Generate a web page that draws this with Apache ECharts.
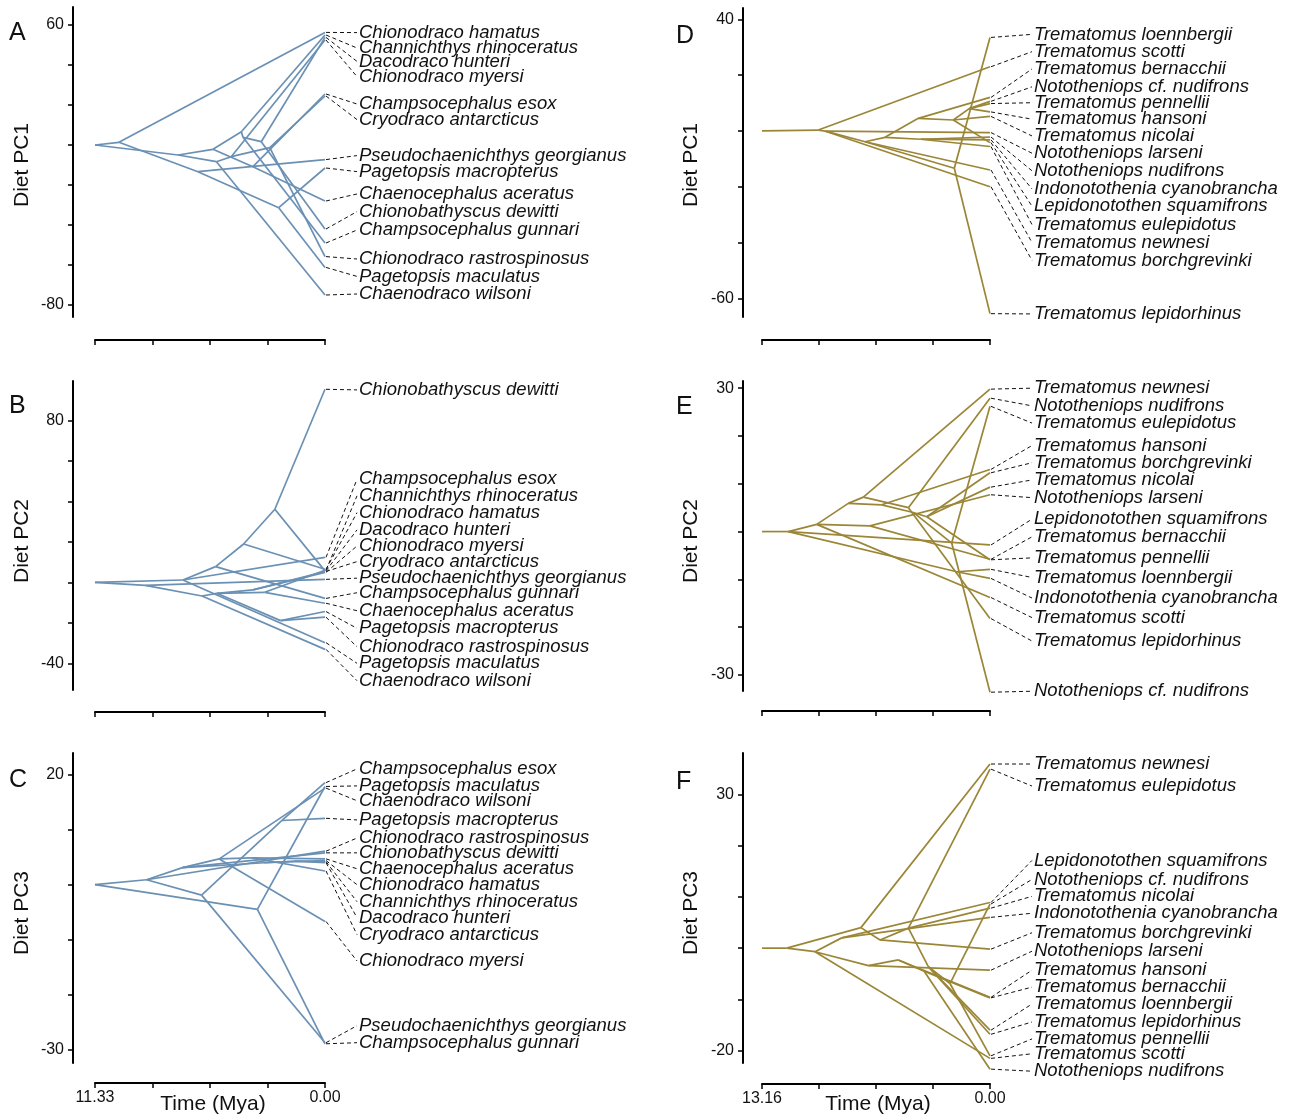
<!DOCTYPE html>
<html><head><meta charset="utf-8">
<script src="https://cdn.jsdelivr.net/npm/echarts@6/dist/echarts.min.js"></script>
<style>html,body{margin:0;padding:0;background:#fff}#chart{width:1302px;height:1116px}</style>
</head><body><div id="chart"></div>
<script>
// ---------- Panel A : Channichthyidae, Diet PC1 ----------
const A_tipNames = ["Chionodraco hamatus","Channichthys rhinoceratus","Dacodraco hunteri","Chionodraco myersi","Champsocephalus esox","Cryodraco antarcticus","Pseudochaenichthys georgianus","Pagetopsis macropterus","Chaenocephalus aceratus","Chionobathyscus dewitti","Champsocephalus gunnari","Chionodraco rastrospinosus","Pagetopsis maculatus","Chaenodraco wilsoni"];
const A_tipValues = [56.3, 55.0, 53.8, 52.5, 25.5, 24.5, -7.3, -11.5, -28.0, -42.0, -49.0, -55.8, -61.2, -75.0];
const A_tipParents = [1, 6, 9, 11, 8, 10, 3, 12, 8, 9, 7, 10, 12, 5];
const A_labelValues = [56.2, 48.5, 41.8, 34.2, 20.5, 12.7, -5.3, -13.3, -24.5, -33.3, -42.5, -57.0, -65.7, -74.5];
const A_nodeTimes = [11.33, 10.15, 7.24, 6.26, 5.52, 5.35, 4.12, 4.04, 3.55, 3.14, 2.72, 4.62, 2.28];
const A_nodeValues = [0, 1.35, -5.0, -13.35, -2.15, -8.35, 6.65, 3.85, -10.85, 1.65, -1.35, -5.85, -31.35];
const A_nodeParents = [-1, 0, 0, 1, 2, 2, 4, 6, 4, 7, 11, 5, 3];

// ---------- Panel B : Channichthyidae, Diet PC2 ----------
const B_tipNames = ["Chionobathyscus dewitti","Champsocephalus esox","Channichthys rhinoceratus","Chionodraco hamatus","Dacodraco hunteri","Chionodraco myersi","Cryodraco antarcticus","Pseudochaenichthys georgianus","Champsocephalus gunnari","Chaenocephalus aceratus","Pagetopsis macropterus","Chionodraco rastrospinosus","Pagetopsis maculatus","Chaenodraco wilsoni"];
const B_tipValues = [95.5, 12.4, 6.0, 6.5, 5.7, 5.0, 5.4, 1.5, -7.9, -10.3, -14.4, -17.2, -29.8, -33.1];
const B_tipParents = [5, 2, 8, 4, 5, 10, 10, 1, 3, 8, 9, 9, 2, 6];
const B_labelValues = [95.2, 51.0, 42.8, 34.5, 26.0, 18.0, 10.3, 2.1, -5.1, -14.0, -22.7, -31.8, -40.0, -48.6];
const B_nodeTimes = [11.33, 8.85, 7.0, 5.39, 4.01, 2.47, 6.06, 5.33, 2.97, 2.19, 3.55];
const B_nodeValues = [0, -1.5, 1.2, 7.8, 19.0, 36.2, -6.7, -5.4, -4.9, -18.9, -3.7];
const B_nodeParents = [-1, 0, 0, 2, 3, 4, 1, 6, 7, 7, 7];

// ---------- Panel C : Channichthyidae, Diet PC3 ----------
const C_tipNames = ["Champsocephalus esox","Pagetopsis maculatus","Chaenodraco wilsoni","Pagetopsis macropterus","Chionodraco rastrospinosus","Chionobathyscus dewitti","Chaenocephalus aceratus","Chionodraco hamatus","Channichthys rhinoceratus","Dacodraco hunteri","Cryodraco antarcticus","Chionodraco myersi","Pseudochaenichthys georgianus","Champsocephalus gunnari"];
const C_tipValues = [18.6, 17.9, 17.6, 12.1, 6.1, 5.8, 4.7, 4.4, 4.2, 4.0, 2.5, -6.7, -28.8, -29.0];
const C_tipParents = [5, 2, 6, 5, 1, 3, 9, 7, 8, 8, 9, 6, 4, 2];
const C_labelValues = [21.1, 18.0, 15.3, 11.8, 8.5, 5.8, 2.9, 0.0, -3.1, -6.0, -9.1, -13.9, -25.7, -28.8];
const C_nodeTimes = [11.33, 8.79, 3.33, 7.02, 6.08, 2.12, 5.21, 3.0, 1.5, 3.6];
const C_nodeValues = [0, 0.9, -4.5, 3.1, -1.9, 11.7, 4.7, 4.0, 4.3, 4.9];
const C_nodeParents = [-1, 0, 0, 1, 1, 4, 3, 3, 7, 6];

// ---------- Panel D : Trematomus group, Diet PC1 ----------
const D_tipNames = ["Trematomus loennbergii","Trematomus scotti","Trematomus bernacchii","Nototheniops cf. nudifrons","Trematomus pennellii","Trematomus hansoni","Trematomus nicolai","Nototheniops larseni","Nototheniops nudifrons","Indonotothenia cyanobrancha","Lepidonotothen squamifrons","Trematomus eulepidotus","Trematomus newnesi","Trematomus borchgrevinki","Trematomus lepidorhinus"];
const D_tipValues = [33.5, 23.0, 12.0, 10.6, 9.8, 6.8, 5.2, -0.6, -2.2, -3.2, -4.2, -5.6, -14.0, -20.0, -65.5];
const D_tipParents = [5, 1, 7, 9, 9, 9, 8, 2, 6, 6, 8, 6, 3, 2, 5];
const D_labelValues = [34.6, 28.4, 22.2, 15.8, 10.1, 4.2, -1.8, -8.0, -14.3, -20.8, -27.0, -33.6, -40.0, -46.4, -65.6];
const D_nodeTimes = [13.16, 9.91, 9.5, 7.21, 6.06, 2.06, 4.0, 4.14, 2.12, 1.2];
const D_nodeValues = [0, 0.3, -0.1, -3.9, -2.3, -13.4, -3.0, 4.5, 3.9, 8.0];
const D_nodeParents = [-1, 0, 1, 2, 3, 3, 4, 4, 7, 8];

// ---------- Panel E : Trematomus group, Diet PC2 ----------
const E_tipNames = ["Trematomus newnesi","Nototheniops nudifrons","Trematomus eulepidotus","Trematomus hansoni","Trematomus borchgrevinki","Trematomus nicolai","Nototheniops larseni","Lepidonotothen squamifrons","Trematomus bernacchii","Trematomus pennellii","Trematomus loennbergii","Indonotothenia cyanobrancha","Trematomus scotti","Trematomus lepidorhinus","Nototheniops cf. nudifrons"];
const E_tipValues = [29.8, 27.9, 26.2, 13.0, 12.3, 9.3, 7.7, -2.8, -5.8, -5.9, -7.9, -9.8, -13.8, -18.2, -33.6];
const E_tipParents = [6, 8, 10, 7, 11, 11, 5, 1, 5, 11, 3, 3, 2, 8, 10];
const E_labelValues = [30.0, 26.3, 22.7, 18.0, 14.4, 10.8, 7.1, 2.6, -1.1, -5.5, -9.6, -13.9, -18.0, -22.9, -33.4];
const E_nodeTimes = [13.16, 11.64, 10.0, 1.92, 8.18, 6.93, 7.31, 6.25, 4.71, 4.43, 2.21, 3.65];
const E_nodeValues = [0, 0, 1.5, -8.4, 5.9, 1.2, 7.2, 5.6, 5.0, 4.0, -2.4, 3.1];
const E_nodeParents = [-1, 0, 1, 1, 2, 2, 4, 4, 6, 7, 9, 9];

// ---------- Panel F : Trematomus group, Diet PC3 ----------
const F_tipNames = ["Trematomus newnesi","Trematomus eulepidotus","Lepidonotothen squamifrons","Nototheniops cf. nudifrons","Trematomus nicolai","Indonotothenia cyanobrancha","Trematomus borchgrevinki","Nototheniops larseni","Trematomus hansoni","Trematomus bernacchii","Trematomus loennbergii","Trematomus lepidorhinus","Trematomus pennellii","Trematomus scotti","Nototheniops nudifrons"];
const F_tipValues = [35.9, 34.9, 8.9, 8.6, 7.8, 6.0, -0.2, -4.3, -9.6, -9.7, -16.0, -16.8, -21.0, -21.5, -23.6];
const F_tipParents = [3, 9, 4, 11, 9, 4, 8, 5, 6, 7, 10, 10, 11, 2, 7];
const F_labelValues = [35.9, 31.6, 17.1, 13.4, 10.1, 6.8, 3.0, -0.6, -4.3, -7.6, -10.9, -14.4, -17.7, -20.6, -24.0];
const F_nodeTimes = [13.16, 11.73, 10.1, 7.45, 8.56, 7.02, 5.29, 3.8, 6.35, 4.71, 3.56, 2.31];
const F_nodeValues = [0, 0, -0.7, 4.0, 2.0, -3.4, -2.3, -4.5, 1.6, 3.9, -3.6, -6.9];
const F_nodeParents = [-1, 0, 1, 1, 2, 2, 5, 6, 3, 8, 9, 10];

// Axis ticks
const leftAge = 11.33, rightAge = 13.16;
const A_yTicks = [-80,-60,-40,-20,0,20,40,60], A_yLabels = [-80,60];
const B_yTicks = [-40,-20,0,20,40,60,80], B_yLabels = [-40,80];
const C_yTicks = [-30,-20,-10,0,10,20], C_yLabels = [-30,20];
const D_yTicks = [-60,-40,-20,0,20,40], D_yLabels = [-60,40];
const E_yTicks = [-30,-20,-10,0,10,20,30], E_yLabels = [-30,30];
const F_yTicks = [-20,-10,0,10,20,30], F_yLabels = [-20,30];

const BLUE = '#6a90b4', GOLD = '#9a8636';
const FONT = "'Liberation Sans', Arial, sans-serif";

const panels = [
  {letter:'A', title:'Diet PC1', names:A_tipNames, tips:A_tipValues, tipPar:A_tipParents, lab:A_labelValues, nt:A_nodeTimes, nv:A_nodeValues, np:A_nodeParents, ticks:A_yTicks, ylabs:A_yLabels, age:leftAge,
   left:95, top:7, width:230, height:310, yMin:-86, yMax:69, xAxisY:340, yAxisX:73, color:BLUE, showX:false, gap:32, letterX:18, letterY:34, titleX:22, titleY:165},
  {letter:'B', title:'Diet PC2', names:B_tipNames, tips:B_tipValues, tipPar:B_tipParents, lab:B_labelValues, nt:B_nodeTimes, nv:B_nodeValues, np:B_nodeParents, ticks:B_yTicks, ylabs:B_yLabels, age:leftAge,
   left:95, top:381, width:230, height:309, yMin:-53.2, yMax:99.6, xAxisY:712, yAxisX:73, color:BLUE, showX:false, gap:32, letterX:18, letterY:407, titleX:22, titleY:541},
  {letter:'C', title:'Diet PC3', names:C_tipNames, tips:C_tipValues, tipPar:C_tipParents, lab:C_labelValues, nt:C_nodeTimes, nv:C_nodeValues, np:C_nodeParents, ticks:C_yTicks, ylabs:C_yLabels, age:leftAge,
   left:95, top:753, width:230, height:310, yMin:-32.5, yMax:24.0, xAxisY:1083, yAxisX:73, color:BLUE, showX:true, gap:32, letterX:18, letterY:781, titleX:22, titleY:913, timeX:213},
  {letter:'D', title:'Diet PC1', names:D_tipNames, tips:D_tipValues, tipPar:D_tipParents, lab:D_labelValues, nt:D_nodeTimes, nv:D_nodeValues, np:D_nodeParents, ticks:D_yTicks, ylabs:D_yLabels, age:rightAge,
   left:762, top:8, width:228, height:309, yMin:-66.7, yMax:44.05, xAxisY:340, yAxisX:743, color:GOLD, showX:false, gap:42, letterX:685, letterY:37, titleX:691, titleY:165},
  {letter:'E', title:'Diet PC2', names:E_tipNames, tips:E_tipValues, tipPar:E_tipParents, lab:E_labelValues, nt:E_nodeTimes, nv:E_nodeValues, np:E_nodeParents, ticks:E_yTicks, ylabs:E_yLabels, age:rightAge,
   left:762, top:381, width:228, height:310, yMin:-33.35, yMax:31.5, xAxisY:711, yAxisX:743, color:GOLD, showX:false, gap:42, letterX:685, letterY:408, titleX:691, titleY:541},
  {letter:'F', title:'Diet PC3', names:F_tipNames, tips:F_tipValues, tipPar:F_tipParents, lab:F_labelValues, nt:F_nodeTimes, nv:F_nodeValues, np:F_nodeParents, ticks:F_yTicks, ylabs:F_yLabels, age:rightAge,
   left:762, top:753, width:228, height:310, yMin:-22.4, yMax:38.05, xAxisY:1084, yAxisX:743, color:GOLD, showX:true, gap:42, letterX:685, letterY:783, titleX:691, titleY:913, timeX:878}
];

function buildEdges(p){
  const e = [];
  p.np.forEach((par, i) => { if (par >= 0) e.push([p.nt[par], p.nv[par], p.nt[i], p.nv[i]]); });
  p.tipPar.forEach((par, i) => { e.push([p.nt[par], p.nv[par], 0, p.tips[i]]); });
  return e;
}

const grid = [], xAxis = [], yAxis = [], series = [], graphic = [];
panels.forEach((p, i) => {
  grid.push({left:p.left, top:p.top, width:p.width, height:p.height, containLabel:false, outerBoundsMode:'none'});
  const age = p.age;
  xAxis.push({
    gridIndex:i, type:'value', min:0, max:age, inverse:true, position:'bottom',
    offset: p.xAxisY - (p.top + p.height),
    axisLine:{show:true, onZero:false, lineStyle:{color:'#000', width:2}},
    axisTick:{show:true, length:5, customValues:[0, age/4, age/2, 3*age/4, age], lineStyle:{color:'#000', width:1.5}},
    axisLabel:{show:p.showX, customValues:[0, age], formatter:v => Number(v).toFixed(2), fontSize:16, color:'#111', margin:7, fontFamily:FONT},
    splitLine:{show:false}
  });
  yAxis.push({
    gridIndex:i, type:'value', min:p.yMin, max:p.yMax, position:'left',
    offset: p.left - p.yAxisX,
    axisLine:{show:true, onZero:false, lineStyle:{color:'#000', width:2}},
    axisTick:{show:true, length:5, customValues:p.ticks, lineStyle:{color:'#000', width:1.5}},
    axisLabel:{show:true, customValues:p.ylabs, fontSize:16, color:'#111', margin:9, fontFamily:FONT},
    splitLine:{show:false}
  });
  const color = p.color;
  series.push({
    type:'custom', xAxisIndex:i, yAxisIndex:i, clip:false, silent:true, animation:false,
    encode:{x:[0,2], y:[1,3]},
    data: buildEdges(p),
    renderItem:(params, api) => {
      const a = api.coord([api.value(0), api.value(1)]);
      const b = api.coord([api.value(2), api.value(3)]);
      return {type:'line', shape:{x1:a[0], y1:a[1], x2:b[0], y2:b[1]},
              style:{stroke:color, lineWidth:1.7, fill:null}};
    }
  });
  const names = p.names, gap = p.gap;
  series.push({
    type:'custom', xAxisIndex:i, yAxisIndex:i, clip:false, silent:true, animation:false,
    encode:{x:0, y:[1,2]},
    data: p.tips.map((v, j) => [0, v, p.lab[j]]),
    renderItem:(params, api) => {
      const t = api.coord([0, api.value(1)]);
      const l = api.coord([0, api.value(2)]);
      const ex = t[0] + gap;
      return {type:'group', children:[
        {type:'line', shape:{x1:t[0]+1, y1:t[1], x2:ex, y2:l[1]},
         style:{stroke:'#111', lineWidth:1, lineDash:[4,3], fill:null}},
        {type:'text', x:ex + 2, y:l[1],
         style:{text:names[params.dataIndex], fontSize:18.5, fontStyle:'italic', fontFamily:FONT,
                fill:'#111', align:'left', verticalAlign:'middle'}}
      ]};
    }
  });
  graphic.push({type:'text', left:p.letterX - 9, top:p.letterY - 13,
    style:{text:p.letter, fontSize:25, fontFamily:FONT, fill:'#111'}});
  graphic.push({type:'text', x:p.titleX, y:p.titleY, rotation:Math.PI/2,
    style:{text:p.title, fontSize:21, fontFamily:FONT, fill:'#111', align:'center', verticalAlign:'middle'}});
  if (p.showX) {
    graphic.push({type:'text', x:p.timeX, y:1104,
      style:{text:'Time (Mya)', fontSize:21, fontFamily:FONT, fill:'#111', align:'center', verticalAlign:'middle'}});
  }
});

const chart = echarts.init(document.getElementById('chart'), null, {renderer:'canvas', width:1302, height:1116});
chart.setOption({animation:false, backgroundColor:'#fff', grid, xAxis, yAxis, series, graphic});
</script></body></html>
